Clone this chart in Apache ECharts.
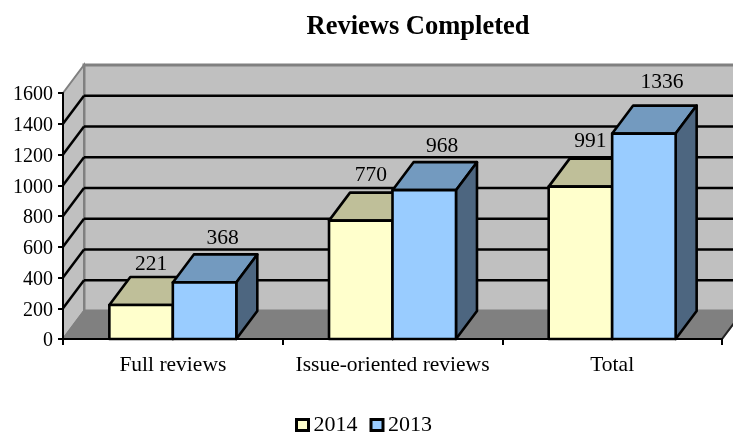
<!DOCTYPE html>
<html><head><meta charset="utf-8">
<style>html,body{margin:0;padding:0;background:#fff}#c{width:733px;height:432px}</style>
<script src="https://cdn.jsdelivr.net/npm/echarts@6/dist/echarts.min.js"></script>
</head><body><div id="c"></div>
<script>
const categories = ['Full reviews', 'Issue-oriented reviews', 'Total'];
const values2014 = [221, 770, 991];
const values2013 = [368, 968, 1336];
const yTicks = [0, 200, 400, 600, 800, 1000, 1200, 1400, 1600];

const FONT = '"Liberation Serif","Times New Roman",serif';
const DX = 21, DY = -28;
const BAR_FRAC = 0.289;
const LABEL_NUDGE_2014 = [3, -1, -1];
const LABEL_NUDGE_2013 = [2, 2, -5];
const chart = echarts.init(document.getElementById('c'), null, {renderer: 'canvas'});

function wallItem(params, api) {
  const v = api.value(0);
  const cs = params.coordSys;
  const L = cs.x, R = cs.x + cs.width;
  const y = api.coord([0, v])[1];
  const kids = [];
  const GRAY = '#808080';
  if (v === 0) {
    const T = cs.y;
    kids.push({type: 'polygon', shape: {points: [[L + DX, T + DY], [R + DX, T + DY], [R + DX, y + DY], [L + DX, y + DY]]}, style: {fill: '#C0C0C0', stroke: GRAY, lineWidth: 3}});
    kids.push({type: 'polygon', shape: {points: [[L, T], [L + DX, T + DY], [L + DX, y + DY], [L, y]]}, style: {fill: '#C0C0C0', stroke: GRAY, lineWidth: 2}});
    kids.push({type: 'polygon', shape: {points: [[L, y], [L + DX, y + DY], [R + DX, y + DY], [R, y]]}, style: {fill: '#808080', stroke: GRAY, lineWidth: 2}});
    kids.push({type: 'line', shape: {x1: R, y1: y, x2: R + DX, y2: y + DY}, style: {stroke: '#222', lineWidth: 2}});
  } else if (v < 1600) {
    kids.push({type: 'line', shape: {x1: L, y1: y, x2: L + DX, y2: y + DY}, style: {stroke: '#000', lineWidth: 2.5}});
    kids.push({type: 'line', shape: {x1: L + DX, y1: y + DY, x2: R + DX, y2: y + DY}, style: {stroke: '#000', lineWidth: 2.5}});
  }
  return {type: 'group', children: kids};
}

function barRenderer(seriesSlot, front, top, side, labelDx, labelDy, nudges) {
  return function (params, api) {
    const cat = api.value(0), val = api.value(1);
    const base = api.coord([cat, 0]);
    const tp = api.coord([cat, val]);
    const w = api.size([1, 0])[0] * BAR_FRAC;
    const x0 = base[0] + seriesSlot * w, x1 = x0 + w;
    const yb = base[1], yt = tp[1];
    const line = {stroke: '#000', lineWidth: 2.6, lineJoin: 'round'};
    return {type: 'group', children: [
      {type: 'polygon', shape: {points: [[x0, yt], [x0 + DX, yt + DY], [x1 + DX, yt + DY], [x1, yt]]}, style: Object.assign({fill: top}, line)},
      {type: 'polygon', shape: {points: [[x1, yt], [x1 + DX, yt + DY], [x1 + DX, yb + DY], [x1, yb]]}, style: Object.assign({fill: side}, line)},
      {type: 'rect', shape: {x: x0, y: yt, width: w, height: yb - yt}, style: Object.assign({fill: front}, line)},
      {type: 'text', x: (x0 + x1) / 2 + labelDx, y: yt + DY + labelDy + nudges[cat], style: {text: String(val), fill: '#000', font: '21.5px ' + FONT, align: 'center', verticalAlign: 'middle'}}
    ]};
  };
}

chart.setOption({
  animation: false,
  backgroundColor: '#fff',
  title: {text: 'Reviews Completed', left: 413, top: 9, textAlign: 'center', textStyle: {fontFamily: FONT, fontSize: 26.5, fontWeight: 'bold', color: '#000'}},
  grid: {left: 63, right: 11, top: 93, bottom: 93, containLabel: false},
  legend: {data: ['2014', '2013'], top: 409, left: 290, itemWidth: 12, itemHeight: 11, itemGap: 12, icon: 'rect', itemStyle: {borderColor: '#000', borderWidth: 3}, textStyle: {fontFamily: FONT, fontSize: 22, color: '#000', padding: [0, 0, 0, 0]}},
  xAxis: {type: 'category', data: categories, z: 10, axisLine: {lineStyle: {color: '#000', width: 2}}, axisTick: {show: true, length: 6, lineStyle: {color: '#000', width: 2}, alignWithLabel: false}, axisLabel: {interval: 0, color: '#000', fontFamily: FONT, fontSize: 21.5, margin: 15}},
  yAxis: {type: 'value', min: 0, max: 1600, interval: 200, z: 10, axisLine: {show: true, lineStyle: {color: '#000', width: 2}}, axisTick: {show: true, length: 5, lineStyle: {color: '#000', width: 2}}, splitLine: {show: false}, axisLabel: {formatter: v => String(v), color: '#000', fontFamily: FONT, fontSize: 20, margin: 10, verticalAlign: 'top', padding: [-8, 0, 0, 0]}},
  series: [
    {type: 'custom', name: 'wall', silent: true, z: 1, renderItem: wallItem, data: yTicks.map(v => [v]), encode: {y: 0}},
    {type: 'custom', name: '2014', z: 2, itemStyle: {color: '#FFFFCC', borderColor: '#000', borderWidth: 3},
     renderItem: barRenderer(-1, '#FFFFCC', '#BFBF99', '#808066', 10, -16, LABEL_NUDGE_2014), data: values2014.map((v, i) => [i, v]), encode: {x: 0, y: 1}},
    {type: 'custom', name: '2013', z: 3, itemStyle: {color: '#99CCFF', borderColor: '#000', borderWidth: 3},
     renderItem: barRenderer(0, '#99CCFF', '#739ABF', '#4D6680', 18, -18, LABEL_NUDGE_2013), data: values2013.map((v, i) => [i, v]), encode: {x: 0, y: 1}}
  ]
});
</script></body></html>
